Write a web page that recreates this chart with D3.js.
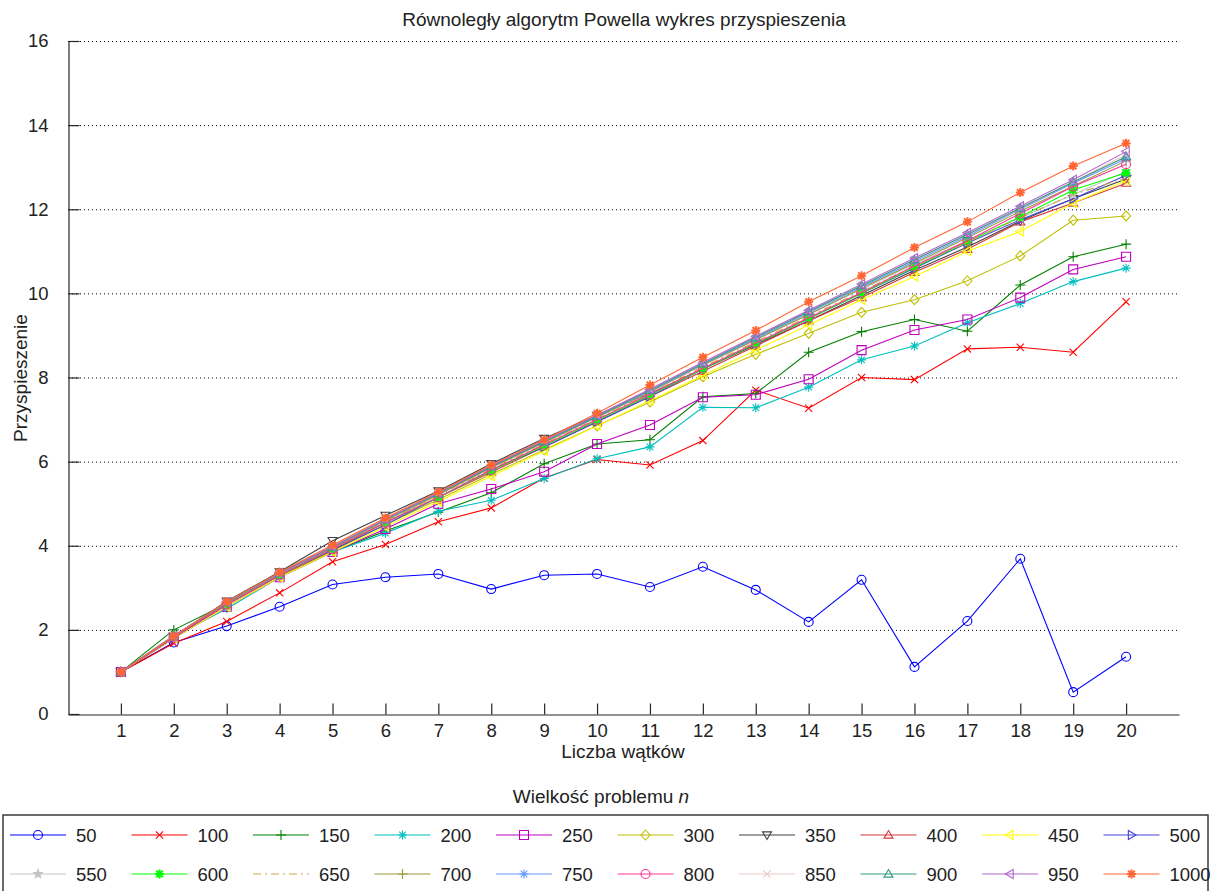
<!DOCTYPE html>
<html>
<head>
<meta charset="utf-8">
<script src="https://cdn.jsdelivr.net/npm/d3@7"></script>
<style>
  html, body { margin: 0; padding: 0; background: #fff; }
  svg { display: block; font-family: "Liberation Sans", Arial, sans-serif; }
</style>
</head>
<body>
<svg id="chart" width="1213" height="891"></svg>
<script>
// Thread counts (x axis)
const threads = d3.range(1, 21);

// Problem sizes, one series each
const sizes = [50, 100, 150, 200, 250, 300, 350, 400, 450, 500,
               550, 600, 650, 700, 750, 800, 850, 900, 950, 1000];

// Speedup per thread count, one array per problem size
const s50   = [1, 1.70, 2.09, 2.55, 3.08, 3.25, 3.33, 2.97, 3.30, 3.33, 3.02, 3.50, 2.95, 2.19, 3.19, 1.12, 2.21, 3.69, 0.52, 1.36];
const s100  = [1, 1.68, 2.20, 2.88, 3.62, 4.03, 4.57, 4.90, 5.61, 6.05, 5.92, 6.50, 7.70, 7.27, 8.00, 7.95, 8.68, 8.72, 8.60, 9.80];
const s150  = [1, 2.00, 2.62, 3.30, 3.85, 4.35, 4.80, 5.26, 5.95, 6.42, 6.52, 7.54, 7.62, 8.60, 9.09, 9.38, 9.10, 10.20, 10.87, 11.17];
const s200  = [1, 1.85, 2.50, 3.25, 3.85, 4.30, 4.82, 5.08, 5.60, 6.07, 6.35, 7.29, 7.28, 7.77, 8.42, 8.75, 9.30, 9.76, 10.28, 10.60];
const s250  = [1, 1.80, 2.55, 3.25, 3.85, 4.40, 5.00, 5.35, 5.76, 6.42, 6.87, 7.53, 7.59, 7.96, 8.65, 9.13, 9.38, 9.90, 10.57, 10.87];
const s300  = [1, 1.82, 2.60, 3.28, 3.88, 4.50, 5.10, 5.70, 6.28, 6.85, 7.42, 8.02, 8.55, 9.05, 9.55, 9.85, 10.30, 10.89, 11.74, 11.84];
const s350  = [1, 1.85, 2.68, 3.38, 4.12, 4.72, 5.30, 5.95, 6.55, 7.10, 7.62, 8.20, 8.78, 9.35, 9.95, 10.55, 11.10, 11.72, 12.25, 12.72];
const s400  = [1, 1.80, 2.60, 3.30, 3.90, 4.55, 5.15, 5.75, 6.35, 6.95, 7.55, 8.15, 8.75, 9.35, 9.90, 10.50, 11.05, 11.70, 12.15, 12.62];
const s450  = [1, 1.80, 2.55, 3.25, 3.85, 4.45, 5.05, 5.65, 6.25, 6.85, 7.45, 8.05, 8.65, 9.25, 9.85, 10.40, 11.00, 11.47, 12.15, 12.68];
const s500  = [1, 1.82, 2.60, 3.30, 3.90, 4.50, 5.15, 5.80, 6.35, 6.95, 7.55, 8.20, 8.80, 9.40, 10.00, 10.60, 11.20, 11.75, 12.25, 12.81];
const s550  = [1, 1.85, 2.65, 3.35, 3.95, 4.55, 5.20, 5.85, 6.45, 7.05, 7.65, 8.30, 8.90, 9.50, 10.10, 10.70, 11.25, 11.80, 12.35, 12.90];
const s600  = [1, 1.85, 2.62, 3.30, 3.92, 4.55, 5.15, 5.78, 6.38, 6.98, 7.58, 8.20, 8.80, 9.40, 10.00, 10.62, 11.22, 11.82, 12.46, 12.87];
const s650  = [1, 1.85, 2.63, 3.32, 3.95, 4.58, 5.20, 5.82, 6.42, 7.02, 7.62, 8.25, 8.85, 9.45, 10.05, 10.65, 11.22, 11.80, 12.35, 12.75];
const s700  = [1, 1.85, 2.64, 3.33, 3.96, 4.60, 5.22, 5.86, 6.46, 7.06, 7.66, 8.30, 8.90, 9.50, 10.12, 10.72, 11.32, 11.95, 12.55, 13.15];
const s750  = [1, 1.86, 2.65, 3.34, 3.97, 4.62, 5.24, 5.88, 6.48, 7.08, 7.68, 8.32, 8.92, 9.54, 10.15, 10.76, 11.36, 12.00, 12.62, 13.20];
const s800  = [1, 1.83, 2.60, 3.30, 3.92, 4.55, 5.15, 5.80, 6.40, 7.00, 7.60, 8.22, 8.82, 9.42, 10.02, 10.65, 11.25, 11.90, 12.54, 13.07];
const s850  = [1, 1.86, 2.66, 3.35, 3.98, 4.62, 5.25, 5.90, 6.50, 7.10, 7.72, 8.35, 8.96, 9.58, 10.20, 10.80, 11.40, 12.02, 12.65, 13.30];
const s900  = [1, 1.85, 2.65, 3.35, 3.97, 4.62, 5.24, 5.88, 6.48, 7.08, 7.70, 8.33, 8.95, 9.57, 10.18, 10.80, 11.40, 12.03, 12.65, 13.25];
const s950  = [1, 1.86, 2.66, 3.36, 3.98, 4.63, 5.26, 5.90, 6.50, 7.10, 7.72, 8.36, 8.98, 9.60, 10.22, 10.84, 11.44, 12.07, 12.70, 13.37];
const s1000 = [1, 1.85, 2.67, 3.37, 4.02, 4.66, 5.28, 5.92, 6.52, 7.15, 7.82, 8.48, 9.12, 9.80, 10.42, 11.09, 11.70, 12.40, 13.03, 13.57];

const seriesValues = [s50, s100, s150, s200, s250, s300, s350, s400, s450, s500,
                      s550, s600, s650, s700, s750, s800, s850, s900, s950, s1000];

// Axis tick values
const xTicks = d3.range(1, 21);
const yTicks = [0, 2, 4, 6, 8, 10, 12, 14, 16];

// Line styles per series
const colors = ["#0000ff", "#ff0000", "#008000", "#00bfbf", "#bf00bf", "#bfbf00", "#404040", "#d63a3a", "#ffff00", "#4444dd",
                "#c4c4c4", "#00ff00", "#d4a24c", "#999933", "#6699ff", "#ff3399", "#ecc8c8", "#339980", "#b266cc", "#ff6633"];
const markers = ["o", "x", "+", "*", "s", "d", "v", "^", "<", ">",
                 "p", "*b", "none", "+", "*", "o", "x", "^", "<", "*b"];
const dashes = sizes.map(s => s === 650 ? "8,4,2,4" : null);

const svg = d3.select("#chart");
const W = 1213;

const x = d3.scaleLinear().domain([0, 21]).range([68, 1179]);
const y = d3.scaleLinear().domain([0, 16]).range([714, 41]);

const FS = 18.5;
const LFS = 19;
const axisColor = "#262626";

// Dotted horizontal grid
svg.append("g")
  .selectAll("line")
  .data(yTicks.filter(v => v > 0))
  .join("line")
  .attr("x1", x(0)).attr("x2", x(21))
  .attr("y1", d => y(d) + 0.5).attr("y2", d => y(d) + 0.5)
  .attr("stroke", "#000").attr("stroke-width", 1)
  .attr("stroke-dasharray", "1,3");

// Axes
const xAxis = d3.axisBottom(x).tickValues(xTicks).tickSize(-11).tickPadding(9).tickSizeOuter(0);
const gx = svg.append("g").attr("transform", `translate(0,${y(0) + 0.5})`).call(xAxis);
const yAxis = d3.axisLeft(y).tickValues(yTicks).tickSize(-11).tickPadding(20).tickSizeOuter(0);
const gy = svg.append("g").attr("transform", `translate(${x(0) + 0.5},0)`).call(yAxis);
[gx, gy].forEach(g => {
  g.select(".domain").attr("stroke", axisColor).attr("stroke-width", 1.2);
  g.selectAll(".tick line").attr("stroke", axisColor).attr("stroke-width", 1.2);
  g.selectAll(".tick text").attr("fill", "#222").style("font-size", FS + "px")
    .style("font-family", "'Liberation Sans', Arial, sans-serif");
});

// Marker path builder
function markerPath(type, cx, cy) {
  const r = 4.5;
  const p = d3.path();
  switch (type) {
    case "o":
      p.moveTo(cx + r, cy); p.arc(cx, cy, r, 0, 2 * Math.PI); break;
    case "x": {
      const a = 3.6;
      p.moveTo(cx - a, cy - a); p.lineTo(cx + a, cy + a);
      p.moveTo(cx - a, cy + a); p.lineTo(cx + a, cy - a); break;
    }
    case "+":
      p.moveTo(cx - r - 0.5, cy); p.lineTo(cx + r + 0.5, cy);
      p.moveTo(cx, cy - r - 0.5); p.lineTo(cx, cy + r + 0.5); break;
    case "*":
    case "*b": {
      const a = 3.3;
      p.moveTo(cx - r, cy); p.lineTo(cx + r, cy);
      p.moveTo(cx, cy - r); p.lineTo(cx, cy + r);
      p.moveTo(cx - a, cy - a); p.lineTo(cx + a, cy + a);
      p.moveTo(cx - a, cy + a); p.lineTo(cx + a, cy - a); break;
    }
    case "s":
      p.rect(cx - r, cy - r, 2 * r, 2 * r); break;
    case "d":
      p.moveTo(cx, cy - r - 0.5); p.lineTo(cx + r, cy); p.lineTo(cx, cy + r + 0.5); p.lineTo(cx - r, cy); p.closePath(); break;
    case "v":
      p.moveTo(cx - r, cy - r * 0.7); p.lineTo(cx + r, cy - r * 0.7); p.lineTo(cx, cy + r); p.closePath(); break;
    case "^":
      p.moveTo(cx - r, cy + r * 0.7); p.lineTo(cx + r, cy + r * 0.7); p.lineTo(cx, cy - r); p.closePath(); break;
    case "<":
      p.moveTo(cx + r * 0.7, cy - r); p.lineTo(cx + r * 0.7, cy + r); p.lineTo(cx - r, cy); p.closePath(); break;
    case ">":
      p.moveTo(cx - r * 0.7, cy - r); p.lineTo(cx - r * 0.7, cy + r); p.lineTo(cx + r, cy); p.closePath(); break;
    case "p": {
      for (let i = 0; i < 10; i++) {
        const ang = -Math.PI / 2 + i * Math.PI / 5;
        const rr = i % 2 === 0 ? r : r * 0.42;
        const px = cx + rr * Math.cos(ang), py = cy + rr * Math.sin(ang);
        if (i === 0) p.moveTo(px, py); else p.lineTo(px, py);
      }
      p.closePath(); break;
    }
    default: break;
  }
  return p.toString();
}

const line = d3.line().x((d, i) => x(threads[i])).y(d => y(d));

const plot = svg.append("g");
seriesValues.forEach((vals, k) => {
  const g = plot.append("g");
  g.append("path")
    .attr("d", line(vals))
    .attr("fill", "none")
    .attr("stroke", colors[k])
    .attr("stroke-width", 1.1)
    .attr("stroke-dasharray", dashes[k]);
  if (markers[k] !== "none") {
    g.selectAll("path.m")
      .data(vals)
      .join("path")
      .attr("class", "m")
      .attr("d", (d, i) => markerPath(markers[k], x(threads[i]), y(d)))
      .attr("fill", markers[k] === "p" ? colors[k] : "none")
      .attr("stroke", colors[k])
      .attr("stroke-width", markers[k] === "*b" ? 2 : 1.1);
  }
});

// Title and axis labels
svg.append("text").attr("x", 624).attr("y", 26).attr("text-anchor", "middle")
  .style("font-size", "19px").attr("fill", "#222")
  .text("Równoległy algorytm Powella wykres przyspieszenia");
svg.append("text").attr("x", 623).attr("y", 758).attr("text-anchor", "middle")
  .style("font-size", LFS + "px").attr("fill", "#222").text("Liczba wątków");
svg.append("text").attr("transform", "translate(27,378) rotate(-90)").attr("text-anchor", "middle")
  .style("font-size", LFS + "px").attr("fill", "#222").text("Przyspieszenie");

// Legend
const legTitle = svg.append("text").attr("x", 601).attr("y", 803).attr("text-anchor", "middle")
  .style("font-size", LFS + "px").attr("fill", "#222");
legTitle.append("tspan").text("Wielkość problemu ");
legTitle.append("tspan").style("font-style", "italic").text("n");

svg.append("rect").attr("x", 3).attr("y", 815).attr("width", W - 8).attr("height", 120)
  .attr("fill", "#fff").attr("stroke", "#3a3a3a").attr("stroke-width", 1.5);

const colW = 121.5;
const rowY = [835, 874];
sizes.forEach((s, k) => {
  const col = k % 10, row = Math.floor(k / 10);
  const x0 = 10 + col * colW, cy = rowY[row];
  const g = svg.append("g");
  g.append("line").attr("x1", x0).attr("x2", x0 + 56).attr("y1", cy).attr("y2", cy)
    .attr("stroke", colors[k]).attr("stroke-width", 1.1).attr("stroke-dasharray", dashes[k]);
  if (markers[k] !== "none") {
    g.append("path").attr("d", markerPath(markers[k], x0 + 28, cy))
      .attr("fill", markers[k] === "p" ? colors[k] : "none")
      .attr("stroke", colors[k])
      .attr("stroke-width", markers[k] === "*b" ? 2 : 1.1);
  }
  g.append("text").attr("x", x0 + 66).attr("y", cy + 6.5)
    .style("font-size", FS + "px").attr("fill", "#222").text(s);
});
</script>
</body>
</html>
